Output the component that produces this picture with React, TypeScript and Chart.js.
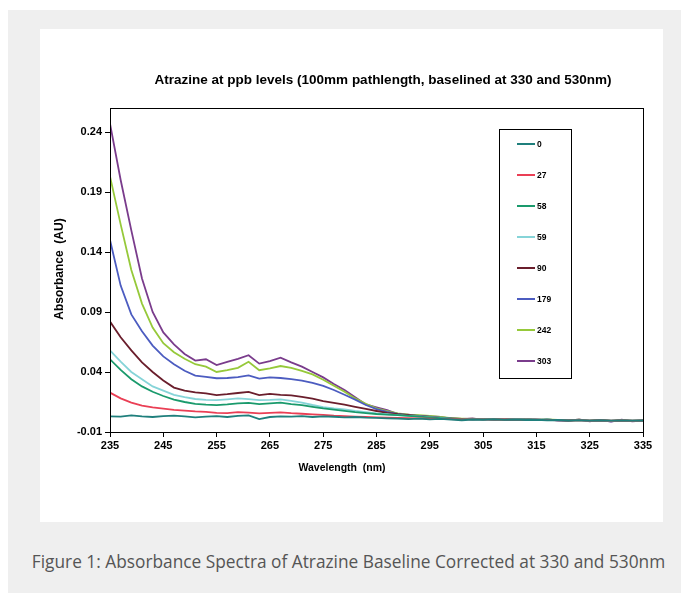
import { useEffect, useRef } from "react";
import { Chart, registerables } from "chart.js";
Chart.register(...registerables);

const wavelengths = [
  235, 237, 239, 241, 243, 245, 247, 249, 251, 253, 255, 257, 259, 261, 263, 265, 267,
  269, 271, 273, 275, 277, 279, 281, 283, 285, 287, 289, 291, 293, 295, 297, 299, 301,
  303, 305, 307, 309, 311, 313, 315, 317, 319, 321, 323, 325, 327, 329, 331, 333, 335,
];

const ppb0 = [
  0.003, 0.0028, 0.0038, 0.003, 0.0025, 0.0033, 0.0036, 0.003, 0.0022, 0.0028, 0.0033, 0.0025,
  0.0035, 0.0038, 0.0008, 0.0025, 0.003, 0.0028, 0.0032, 0.0025, 0.003, 0.0027, 0.0022, 0.0025,
  0.002, 0.0017, 0.0014, 0.0011, 0.0008, 0.0012, 0.0006, 0.0009, 0.0004, -0.0002, 0.0004, 0.0002,
  0.0005, 0.0001, 0.0003, 0.0, 0.0002, -0.0002, 0.0, -0.0004, -0.0001, -0.0005, -0.0002, -0.0006,
  -0.0003, -0.0005, -0.0004,
];
const ppb27 = [
  0.0228, 0.018, 0.0145, 0.012, 0.0105, 0.0095, 0.0085, 0.0078, 0.0072, 0.0068, 0.006, 0.0058,
  0.0066, 0.0062, 0.0055, 0.006, 0.0064, 0.0057, 0.0052, 0.0047, 0.0042, 0.0036, 0.0032, 0.0028,
  0.0025, 0.0022, 0.002, 0.0018, 0.0016, 0.0014, 0.0012, 0.001, 0.0008, 0.0006, 0.0005, 0.0006,
  0.0003, 0.0004, 0.0001, 0.0003, 0.0, 0.0001, -0.0002, -0.0003, -0.0001, -0.0005, -0.0002,
  -0.0006, -0.0003, -0.0005, -0.0004,
];
const ppb58 = [
  0.0506, 0.0417, 0.034, 0.028, 0.0235, 0.02, 0.017, 0.015, 0.0135, 0.0128, 0.0124, 0.013,
  0.0138, 0.0143, 0.0132, 0.0138, 0.0144, 0.0133, 0.0124, 0.011, 0.0097, 0.0086, 0.0076, 0.0066,
  0.0058, 0.005, 0.0045, 0.004, 0.0035, 0.0028, 0.0022, 0.0016, 0.0012, 0.0009, 0.0006, 0.0008,
  0.0004, 0.0005, 0.0002, 0.0004, 0.0, 0.0002, -0.0001, -0.0003, -0.0001, -0.0005, -0.0002,
  -0.0006, -0.0003, -0.0006, -0.0004,
];
const ppb59 = [
  0.058, 0.0486, 0.04, 0.034, 0.028, 0.0245, 0.021, 0.019, 0.0175, 0.0168, 0.0165, 0.0172, 0.018,
  0.0174, 0.0166, 0.0168, 0.0172, 0.016, 0.0145, 0.0125, 0.0108, 0.0097, 0.0088, 0.0076, 0.0066,
  0.0056, 0.0048, 0.004, 0.0035, 0.003, 0.0024, 0.0017, 0.0012, 0.001, 0.0007, 0.0009, 0.0005,
  0.0006, 0.0003, 0.0004, 0.0, 0.0002, -0.0001, -0.0003, 0.0, -0.0005, -0.0002, -0.0007, -0.0003,
  -0.0006, -0.0004,
];
const ppb90 = [
  0.082, 0.069, 0.058, 0.048, 0.04, 0.033, 0.027, 0.0245, 0.023, 0.0222, 0.0208, 0.0215, 0.0225,
  0.0235, 0.0208, 0.0217, 0.021, 0.0205, 0.0192, 0.0178, 0.0158, 0.0142, 0.0128, 0.011, 0.0092,
  0.0075, 0.006, 0.0048, 0.004, 0.0032, 0.0026, 0.0018, 0.0014, 0.0009, 0.0011, 0.0006, 0.0008,
  0.0004, 0.0006, 0.0002, 0.0004, -0.0001, 0.0001, -0.0004, -0.0001, -0.0006, -0.0003, -0.0008,
  -0.0004, -0.0007, -0.0005,
];
const ppb179 = [
  0.15, 0.112, 0.088, 0.074, 0.062, 0.053, 0.0465, 0.041, 0.037, 0.036, 0.0348, 0.035, 0.0358,
  0.0372, 0.0345, 0.0356, 0.035, 0.034, 0.0328, 0.031, 0.0285, 0.025, 0.021, 0.017, 0.0125, 0.009,
  0.0068, 0.005, 0.004, 0.0035, 0.0028, 0.002, 0.0012, 0.001, 0.0006, 0.0009, 0.0004, 0.0007,
  0.0002, 0.0005, -0.0001, 0.0003, -0.0002, -0.0006, 0.0001, -0.0009, -0.0002, -0.0011, -0.0003,
  -0.0009, -0.0006,
];
const ppb242 = [
  0.203, 0.163, 0.125, 0.097, 0.077, 0.064, 0.0565, 0.051, 0.0465, 0.0445, 0.04, 0.0415, 0.0435,
  0.0485, 0.0415, 0.043, 0.045, 0.0435, 0.041, 0.038, 0.0335, 0.0285, 0.0235, 0.018, 0.0135,
  0.0097, 0.0075, 0.0055, 0.0045, 0.004, 0.0035, 0.0025, 0.0015, 0.0012, 0.0008, 0.001, 0.0006,
  0.0008, 0.0003, 0.0006, 0.0001, 0.0004, 0.0, -0.0004, 0.0002, -0.0008, 0.0001, -0.001, -0.0002,
  -0.0008, -0.0005,
];
const ppb303 = [
  0.247, 0.2, 0.158, 0.118, 0.09, 0.073, 0.063, 0.055, 0.0495, 0.0506, 0.0458, 0.0485, 0.051,
  0.054, 0.047, 0.049, 0.052, 0.048, 0.0445, 0.04, 0.0355, 0.03, 0.025, 0.019, 0.013, 0.0106,
  0.0083, 0.005, 0.0045, 0.0035, 0.003, 0.0025, 0.0012, 0.0008, 0.0012, 0.0005, 0.001, 0.0006,
  0.0002, 0.0008, 0.0, 0.0005, -0.0003, -0.0008, 0.0004, -0.0012, 0.0, -0.0014, 0.0002, -0.0012,
  -0.0006,
];

const seriesLabels = ["0", "27", "58", "59", "90", "179", "242", "303"];
const seriesValues = [ppb0, ppb27, ppb58, ppb59, ppb90, ppb179, ppb242, ppb303];
const seriesColors = [
  "#1f7f7c",
  "#ea3f55",
  "#1a9a6c",
  "#86d4d8",
  "#6a1e2c",
  "#4c5cc0",
  "#96c93a",
  "#7a3c8c",
];

const xTicks = [235, 245, 255, 265, 275, 285, 295, 305, 315, 325, 335];
const yTicks = [-0.01, 0.04, 0.09, 0.14, 0.19, 0.24];

const chartTitle = "Atrazine at ppb levels (100mm pathlength, baselined at 330 and 530nm)";
const xTitle = "Wavelength  (nm)";
const yTitle = "Absorbance  (AU)";
const caption = "Figure 1: Absorbance Spectra of Atrazine Baseline Corrected at 330 and 530nm";

const FONT = '"Liberation Sans", Arial, sans-serif';

export default function App() {
  const ref = useRef<HTMLCanvasElement | null>(null);

  useEffect(() => {
    if (!ref.current) return;
    const decor = {
      id: "decor",
      afterDraw(chart: any) {
        const ctx = chart.ctx;
        const a = chart.chartArea;
        ctx.save();
        ctx.strokeStyle = "#000";
        ctx.lineWidth = 1;
        ctx.strokeRect(Math.round(a.left) + 0.5, Math.round(a.top) + 0.5, Math.round(a.right - a.left), Math.round(a.bottom - a.top));

        ctx.fillStyle = "#000";
        ctx.textAlign = "center";
        ctx.textBaseline = "middle";
        ctx.font = `bold 13.5px ${FONT}`;
        ctx.fillText(chartTitle, 343, 51);

        ctx.font = `bold 10.5px ${FONT}`;
        ctx.fillText(xTitle, 302, 439);
        ctx.save();
        ctx.translate(20, 240);
        ctx.rotate(-Math.PI / 2);
        ctx.font = `bold 12px ${FONT}`;
        ctx.fillText(yTitle, 0, 0);
        ctx.restore();

        // legend
        const lx = 459, ly = 100, lw = 72, lh = 249;
        ctx.fillStyle = "#fff";
        ctx.fillRect(lx, ly, lw, lh);
        ctx.strokeStyle = "#000";
        ctx.strokeRect(lx + 0.5, ly + 0.5, lw, lh);
        ctx.textAlign = "left";
        ctx.font = `bold 8.5px ${FONT}`;
        for (let i = 0; i < seriesLabels.length; i++) {
          const y = 115 + i * 31;
          ctx.strokeStyle = seriesColors[i];
          ctx.lineWidth = 2;
          ctx.beginPath();
          ctx.moveTo(477, y);
          ctx.lineTo(495, y);
          ctx.stroke();
          ctx.fillStyle = "#000";
          ctx.fillText(seriesLabels[i], 497, y + 0.5);
        }
        ctx.restore();
      },
    };

    const chart = new Chart(ref.current, {
      type: "line",
      data: {
        datasets: seriesValues.map((vals, i) => ({
          label: seriesLabels[i],
          data: vals.map((v, j) => ({ x: wavelengths[j], y: v })),
          borderColor: seriesColors[i],
          backgroundColor: seriesColors[i],
          borderWidth: 1.8,
          pointRadius: 0,
          tension: 0,
          fill: false,
        })),
      },
      options: {
        responsive: false,
        animation: false,
        devicePixelRatio: 1,
        layout: { padding: { left: 30, right: 20, top: 79, bottom: 68 } },
        plugins: {
          legend: { display: false },
          title: { display: false },
          tooltip: { enabled: false },
        },
        scales: {
          x: {
            type: "linear",
            min: 235,
            max: 335,
            afterBuildTicks: (s: any) => {
              s.ticks = xTicks.map((v) => ({ value: v }));
            },
            afterFit: (s: any) => {
              s.height = 22;
            },
            ticks: {
              autoSkip: false,
              maxRotation: 0,
              color: "#000",
              padding: 2,
              font: { family: FONT, size: 11, weight: "bold" },
            },
            grid: { drawOnChartArea: false, drawTicks: true, tickLength: 5, color: "#000" },
            border: { display: true, color: "#000", width: 1 },
          },
          y: {
            type: "linear",
            min: -0.01,
            max: 0.26,
            afterBuildTicks: (s: any) => {
              s.ticks = yTicks.map((v) => ({ value: v }));
            },
            afterFit: (s: any) => {
              s.width = 40;
            },
            ticks: {
              color: "#000",
              padding: 3,
              callback: (v: any) => Number(v).toFixed(2),
              font: { family: FONT, size: 11, weight: "bold" },
            },
            grid: { drawOnChartArea: false, drawTicks: true, tickLength: 5, color: "#000" },
            border: { display: true, color: "#000", width: 1 },
          },
        },
      },
      plugins: [decor],
    } as any);
    return () => chart.destroy();
  }, []);

  return (
    <div
      style={{
        position: "absolute",
        left: 8,
        top: 10,
        width: 673,
        height: 583,
        background: "#efefef",
      }}
    >
      <div
        style={{
          position: "absolute",
          left: 32,
          top: 19,
          width: 623,
          height: 493,
          background: "#fff",
        }}
      >
        <canvas ref={ref} width={623} height={493} style={{ display: "block", width: 623, height: 493 }} />
      </div>
      <div
        style={{
          position: "absolute",
          left: 0,
          top: 540,
          width: 681,
          textAlign: "center",
          fontFamily: '"Open Sans", sans-serif',
          fontSize: 17.3,
          lineHeight: "24px",
          color: "#555",
          whiteSpace: "nowrap",
        }}
      >
        {caption}
      </div>
    </div>
  );
}
